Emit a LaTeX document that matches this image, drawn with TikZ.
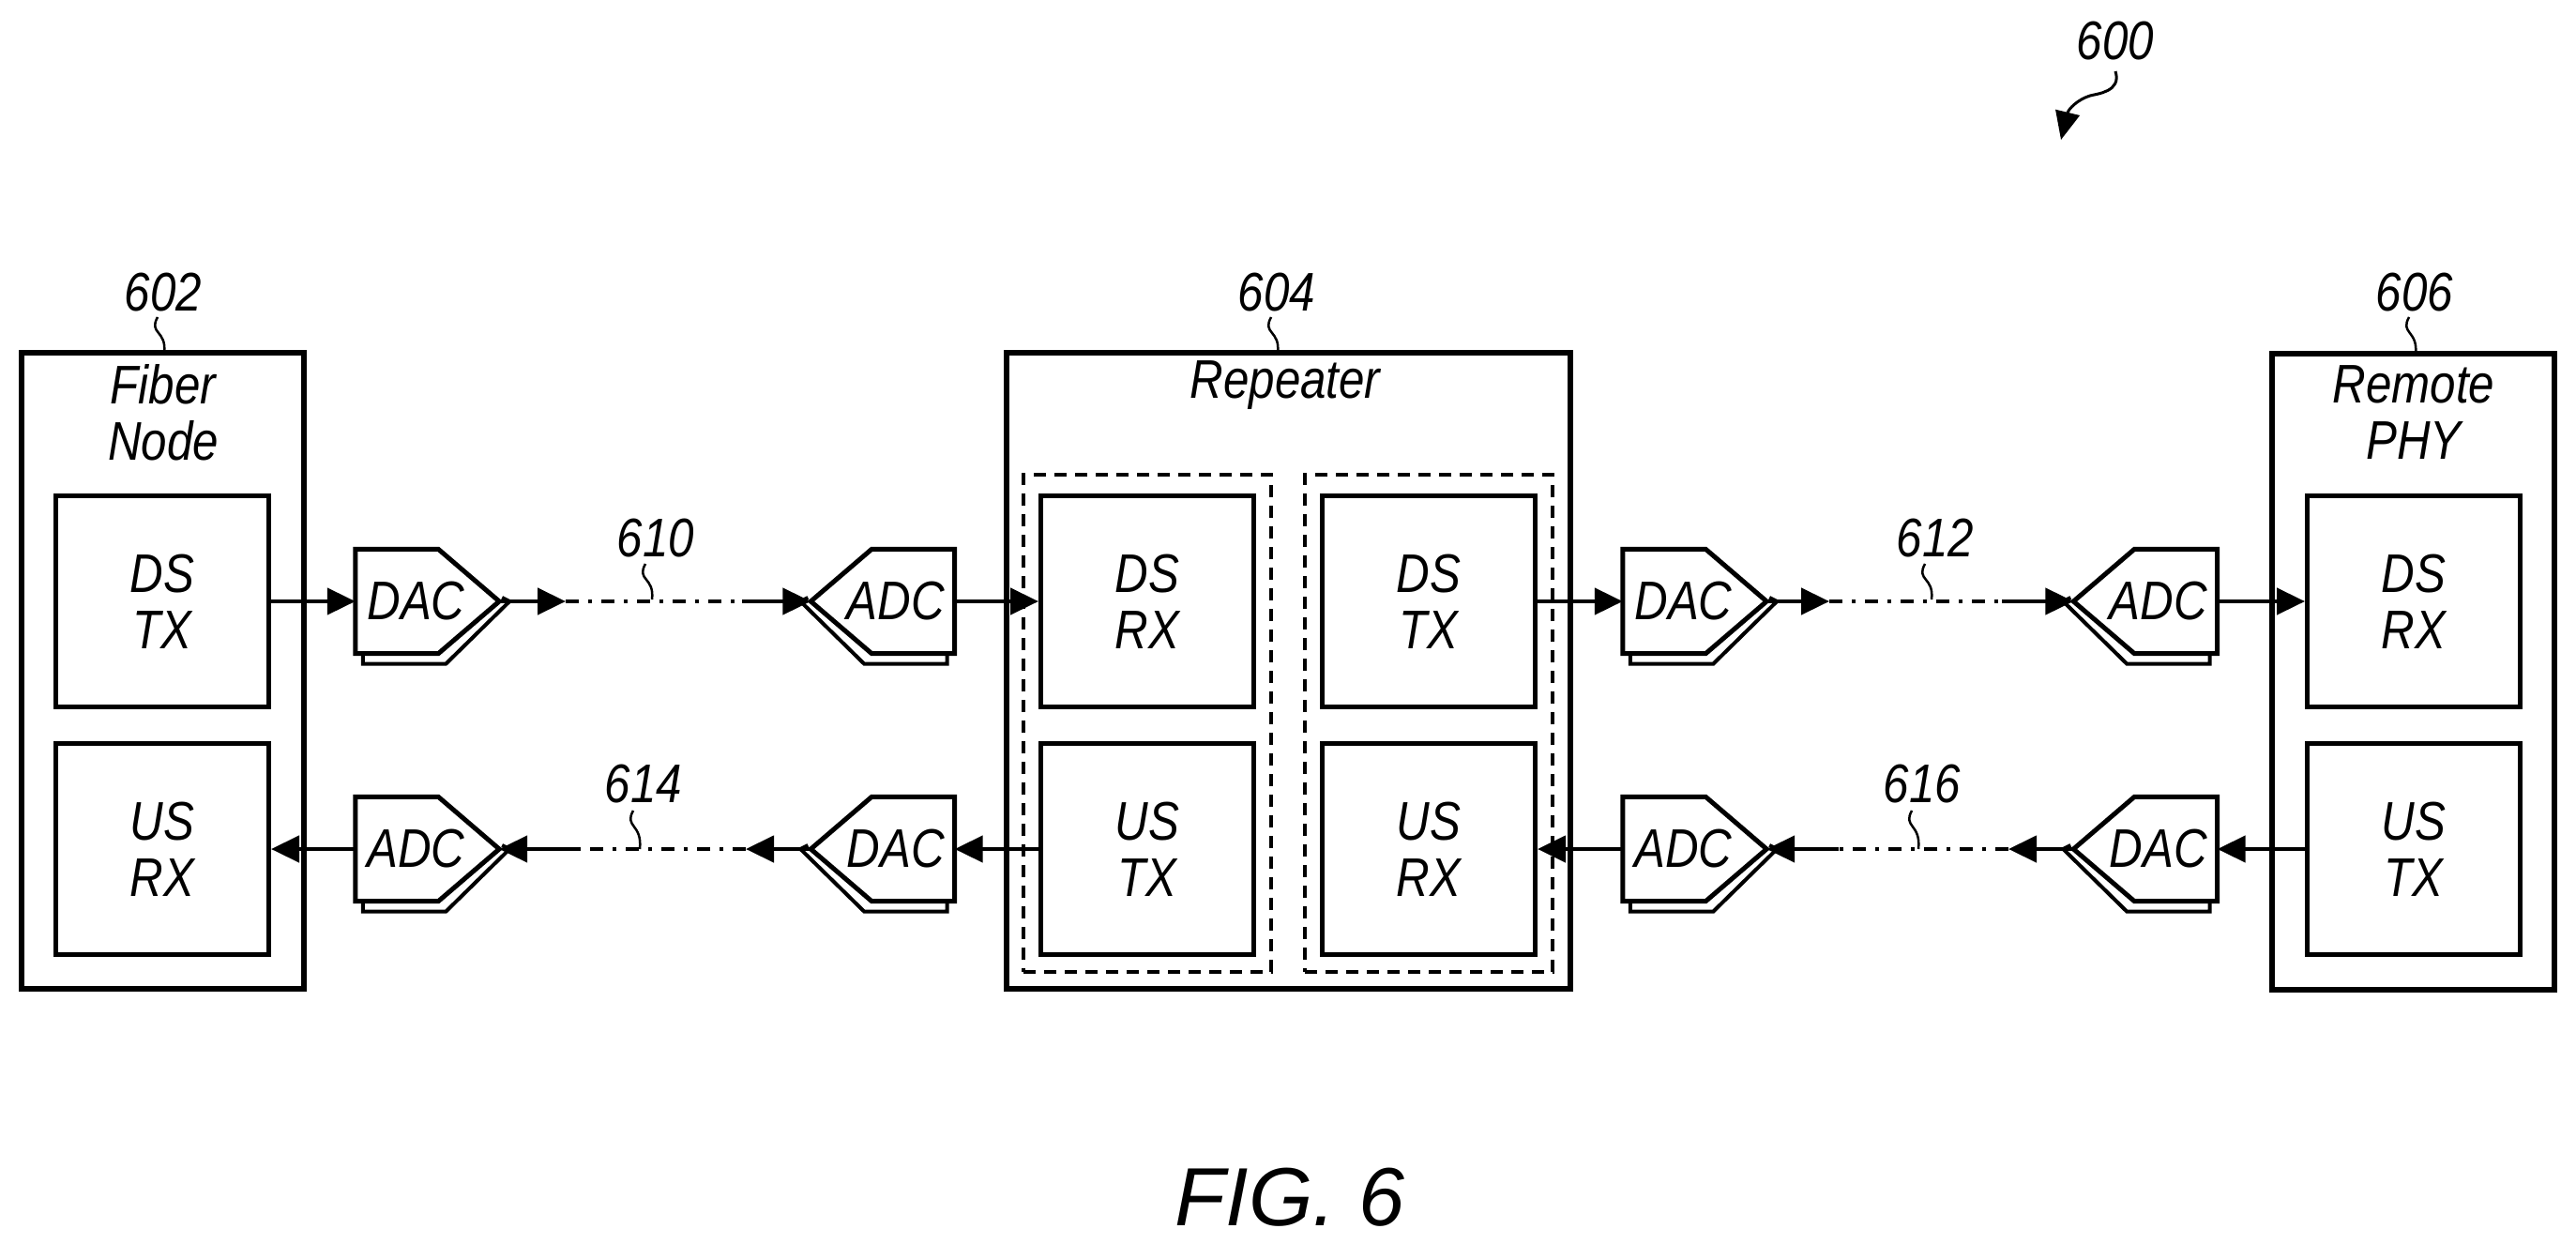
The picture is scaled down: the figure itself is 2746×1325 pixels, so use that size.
\documentclass[tikz,border=0pt]{standalone}
\usepackage{fontspec}
\setmainfont[FakeStretch=0.85]{Liberation Sans}
\newfontfamily\capfont{Liberation Sans}
\usetikzlibrary{arrows.meta,calc}
\begin{document}
\begin{tikzpicture}[x=1pt,y=-1pt,
  every node/.style={font=\fontsize{58}{60}\selectfont\itshape, align=center, inner sep=0},
  outer/.style={draw, line width=6pt, minimum width=301pt, minimum height=678pt},
  inner/.style={draw, line width=5pt, minimum width=227pt, minimum height=225pt},
  dbox/.style={draw, line width=4.5pt, dash pattern=on 13pt off 9pt, minimum width=264pt, minimum height=530pt},
  cbox/.style={minimum width=153pt, minimum height=111pt},
  conv/.style={line width=5pt, line join=miter},
  shad/.style={line width=4pt, line join=miter},
  con/.style={line width=4.5pt},
  arr/.style={con, -{Triangle[length=30pt,width=28pt]}},
  dd/.style={line width=4.5pt, dash pattern=on 14pt off 10pt on 4pt off 10pt},
  sq/.style={line width=2.5pt},
  lab/.style={font=\fontsize{58}{60}\selectfont\itshape}
]
\useasboundingbox (0,0) rectangle (2746,1325);
\newcommand\cvR[3]{% tip on east
  \node[cbox] (#1) at (#2) {};
  \draw[shad] ([xshift=8pt]#1.south west) -- ([xshift=8pt,yshift=-11pt]#1.south west) -- ([xshift=-57pt,yshift=-11pt]#1.south east) -- ([xshift=11pt]#1.east) -- ([xshift=3pt,yshift=4pt]#1.east);
  \draw[conv,fill=white] (#1.north west) -- ([xshift=-65pt]#1.north east) -- (#1.east) -- ([xshift=-65pt]#1.south east) -- (#1.south west) -- cycle;
  \node at ([xshift=-12pt]#1.center) {#3};}
\newcommand\cvL[3]{% tip on west
  \node[cbox] (#1) at (#2) {};
  \draw[shad] ([xshift=-8pt]#1.south east) -- ([xshift=-8pt,yshift=-11pt]#1.south east) -- ([xshift=57pt,yshift=-11pt]#1.south west) -- ([xshift=-11pt]#1.west) -- ([xshift=-3pt,yshift=4pt]#1.west);
  \draw[conv,fill=white] (#1.north east) -- ([xshift=65pt]#1.north west) -- (#1.west) -- ([xshift=65pt]#1.south west) -- (#1.south east) -- cycle;
  \node at ([xshift=14pt]#1.center) {#3};}

% outer boxes
\node[outer] (fn) at (173,715) {};
\node[outer, minimum width=601pt] (rp) at (1373,715) {};
\node[outer] (rphy) at (2572,716) {};
\node (fnt) at (174,440) {Fiber\\Node};
\node (rpt) at (1370,411) {Repeater};
\node (rphyt) at (2573,440) {Remote\\PHY};
% dashed groups
\node[dbox] (g1) at (1223,771) {};
\node[dbox] (g2) at (1523,771) {};
% inner boxes
\node[inner] (fdstx) at (173,641) {DS\\TX};
\node[inner] (fusrx) at (173,905) {US\\RX};
\node[inner] (rdsrx) at (1223,641) {DS\\RX};
\node[inner] (rustx) at (1223,905) {US\\TX};
\node[inner] (rdstx) at (1523,641) {DS\\TX};
\node[inner] (rusrx) at (1523,905) {US\\RX};
\node[inner] (pdsrx) at (2573,641) {DS\\RX};
\node[inner] (pustx) at (2573,905) {US\\TX};
% converters
\cvR{d1}{455.5,641}{DAC}
\cvL{a1}{941,641}{ADC}
\cvR{d2}{1806.5,641}{DAC}
\cvL{a2}{2287,641}{ADC}
\cvR{a3}{455.5,905}{ADC}
\cvL{d3}{941,905}{DAC}
\cvR{a4}{1806.5,905}{ADC}
\cvL{d4}{2287,905}{DAC}
% top row connectors
\draw[arr] (fdstx.east) -- (d1.west);
\coordinate (p1) at (603,641); \coordinate (p2) at (791,641);
\draw[arr] (d1.east) -- (p1);
\draw[dd] (p1) -- (p2);
\draw[arr] (p2) -- (a1.west);
\draw[arr] (a1.east) -- (rdsrx.west);
\draw[arr] (rdstx.east) -- (d2.west);
\coordinate (p3) at (1950,641); \coordinate (p4) at (2134,641);
\draw[arr] (d2.east) -- (p3);
\draw[dd] (p3) -- (p4);
\draw[arr] (p4) -- (a2.west);
\draw[arr] (a2.east) -- (pdsrx.west);
% bottom row connectors
\draw[arr] (pustx.west) -- (d4.east);
\coordinate (q3) at (2141,905); \coordinate (q4) at (1960,905);
\draw[arr] (d4.west) -- (q3);
\draw[dd] (q3) -- (q4);
\draw[arr] (q4) -- (a4.east);
\draw[arr] (a4.west) -- (rusrx.east);
\draw[arr] (rustx.west) -- (d3.east);
\coordinate (q1) at (795,905); \coordinate (q2) at (617,905);
\draw[arr] (d3.west) -- (q1);
\draw[dd] (q1) -- (q2);
\draw[arr] (q2) -- (a3.east);
\draw[arr] (a3.west) -- (fusrx.east);
% reference labels
\node[lab] (l602) at (174,312) {602};
\draw[sq] (168,338) .. controls (158,356) and (178,352) .. (175,376);
\node[lab] (l604) at (1361,312) {604};
\draw[sq] (1355,338) .. controls (1345,356) and (1365,352) .. (1362,376);
\node[lab] (l606) at (2574,312) {606};
\draw[sq] (2568,338) .. controls (2558,356) and (2578,352) .. (2575,378);
\node[lab] (l610) at (699,574) {610};
\draw[sq] (688,601) .. controls (678,619) and (698,615) .. (695,639);
\node[lab] (l614) at (686,836) {614};
\draw[sq] (675,864) .. controls (665,882) and (685,878) .. (682,905);
\node[lab] (l612) at (2063,574) {612};
\draw[sq] (2052,601) .. controls (2042,619) and (2062,615) .. (2059,639);
\node[lab] (l616) at (2049,836) {616};
\draw[sq] (2038,864) .. controls (2028,882) and (2048,878) .. (2045,905);
\node[lab] (l600) at (2255,44) {600};
\coordinate (e600) at (2197,149);
\draw[line width=3pt, -{Triangle[length=30pt,width=26pt]}] (2255,76) .. controls (2262,98) and (2235,100) .. (2228,102) .. controls (2215,106) and (2205,116) .. (e600);
% caption
\node[font=\capfont\fontsize{88}{90}\selectfont\itshape] (fig) at (1375,1276) {FIG. 6};
\end{tikzpicture}
\end{document}
